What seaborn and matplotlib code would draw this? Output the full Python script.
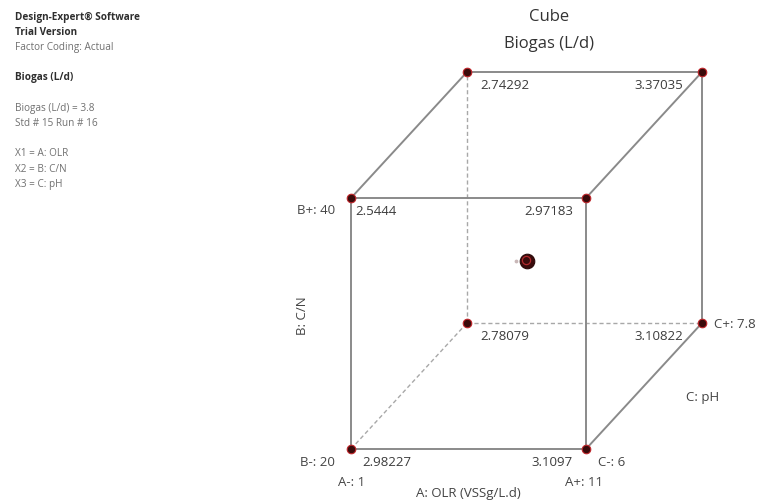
import numpy as np
import pandas as pd
import matplotlib
matplotlib.use("Agg")
import matplotlib.pyplot as plt
import seaborn as sns

# Factor levels (actual units)
A_levels = [1, 11]        # A: OLR (VSSg/L.d)
B_levels = [20, 40]       # B: C/N
C_levels = [6, 7.8]       # C: pH

# Cube corners in coded units and predicted response
a_code = [-1, 1, -1, 1, -1, 1, -1, 1]
b_code = [-1, -1, 1, 1, -1, -1, 1, 1]
c_code = [-1, -1, -1, -1, 1, 1, 1, 1]
biogas = [2.98227, 3.1097, 2.5444, 2.97183, 2.78079, 3.10822, 2.74292, 3.37035]

# Center point
center_code = (0, 0, 0)

info_lines = [
    ("Design-Expert\u00ae Software", "bold"),
    ("Trial Version", "bold"),
    ("Factor Coding: Actual", "normal"),
    ("", "normal"),
    ("Biogas (L/d)", "bold"),
    ("", "normal"),
    ("Biogas (L/d) = 3.8", "normal"),
    ("Std # 15 Run # 16", "normal"),
    ("", "normal"),
    ("X1 = A: OLR", "normal"),
    ("X2 = B: C/N", "normal"),
    ("X3 = C: pH", "normal"),
]

sns.set_theme(style="white")
plt.rcParams["font.family"] = ["Open Sans", "DejaVu Sans"]

W, H = 764, 501
fig = plt.figure(figsize=(W / 100, H / 100), dpi=100)
ax = fig.add_axes([0, 0, 1, 1])
ax.set_xlim(0, W)
ax.set_ylim(H, 0)
ax.axis("off")

# Oblique projection of the coded cube onto the page
ORIGIN = np.array([351.0, 449.0])
UA = np.array([235.0, 0.0])
UB = np.array([0.0, -251.0])
UC = np.array([116.0, -126.0])


def proj(a, b, c):
    p = ORIGIN + UA * (a + 1) / 2 + UB * (b + 1) / 2 + UC * (c + 1) / 2
    return p[0], p[1]


df = pd.DataFrame({"a": a_code, "b": b_code, "c": c_code, "biogas": biogas})
xy = np.array([proj(a, b, c) for a, b, c in zip(df.a, df.b, df.c)])
df["px"], df["py"] = xy[:, 0], xy[:, 1]


def corner(a, b, c):
    row = df[(df.a == a) & (df.b == b) & (df.c == c)].iloc[0]
    return row.px, row.py


edge_col = "#8a8a8a"
hidden = [((-1, -1, -1), (-1, -1, 1)), ((-1, -1, 1), (1, -1, 1)), ((-1, -1, 1), (-1, 1, 1))]
solid = [
    ((-1, -1, -1), (1, -1, -1)), ((1, -1, -1), (1, 1, -1)),
    ((1, 1, -1), (-1, 1, -1)), ((-1, 1, -1), (-1, -1, -1)),
    ((-1, 1, 1), (1, 1, 1)), ((1, 1, 1), (1, -1, 1)),
    ((-1, 1, -1), (-1, 1, 1)), ((1, 1, -1), (1, 1, 1)), ((1, -1, -1), (1, -1, 1)),
]
for p, q in hidden:
    x0, y0 = corner(*p)
    x1, y1 = corner(*q)
    ax.plot([x0, x1], [y0, y1], color="#a8a8a8", lw=1.0, ls=(0, (3, 2)), zorder=1)
for p, q in solid:
    x0, y0 = corner(*p)
    x1, y1 = corner(*q)
    ax.plot([x0, x1], [y0, y1], color=edge_col, lw=1.4, zorder=2, solid_capstyle="butt")

# Corner design points
sns.scatterplot(data=df, x="px", y="py", ax=ax, s=38, color="#3a0b0b",
                edgecolor="#c0262b", linewidth=0.8, zorder=4, legend=False)

# Center point
cx, cy = proj(*center_code)
ax.scatter([cx], [cy], s=110, color="#3a0b0b", edgecolor="#2a0808", linewidth=0.8, zorder=4)
ax.scatter([cx], [cy], s=35, facecolor="none", edgecolor="#b0282c", linewidth=0.9, zorder=5)
ax.scatter([cx - 11], [cy], s=3, color="#c9b8b8", zorder=4)

# Response values at the corners
val_col = "#3c3c3c"
for _, r in df.iterrows():
    if r.a < 0:
        dx, ha = (13 if r.c > 0 else (4 if r.b > 0 else 11)), "left"
    else:
        dx, ha = (-19 if r.c > 0 else -13), "right"
    ax.text(r.px + dx, r.py + 13.5, f"{r.biogas:g}", ha=ha, va="center",
            fontsize=9.5, color=val_col)

lab_col = "#444444"
fs = 9.5
# Factor level labels
x, y = proj(-1, 1, -1)
ax.text(x - 16, y + 13, f"B+: {B_levels[1]}", ha="right", va="center", fontsize=fs, color=lab_col)
x, y = proj(-1, -1, -1)
ax.text(x - 16, y + 13, f"B-: {B_levels[0]}", ha="right", va="center", fontsize=fs, color=lab_col)
ax.text(x + 1, y + 34, f"A-: {A_levels[0]}", ha="center", va="center", fontsize=fs, color=lab_col)
x, y = proj(1, -1, -1)
ax.text(x - 2, y + 34, f"A+: {A_levels[1]}", ha="center", va="center", fontsize=fs, color=lab_col)
ax.text(x + 12, y + 13, f"C-: {C_levels[0]:g}", ha="left", va="center", fontsize=fs, color=lab_col)
x, y = proj(1, -1, 1)
ax.text(x + 12, y + 2, f"C+: {C_levels[1]:g}", ha="left", va="center", fontsize=fs, color=lab_col)

# Axis names
x, y = proj(0, -1, -1)
ax.text(x, y + 44, "A: OLR (VSSg/L.d)", ha="center", va="center", fontsize=fs, color=lab_col)
x, y = proj(-1, 0, -1)
ax.text(x - 48, y - 8, "B: C/N", ha="center", va="center", rotation=90, fontsize=fs, color=lab_col)
x, y = proj(1, -1, 0)
ax.text(x + 59, y + 12, "C: pH", ha="center", va="center", fontsize=fs, color=lab_col)

# Titles
ax.text(549, 17, "Cube", ha="center", va="center", fontsize=12, color="#333333")
ax.text(549, 44, "Biogas (L/d)", ha="center", va="center", fontsize=12, color="#333333")

# Report panel
y = 17
for txt, wt in info_lines:
    if txt:
        ax.text(15, y, txt, ha="left", va="center", fontsize=7.2, fontweight=wt,
                color="#2e2e2e" if wt == "bold" else "#707070")
    y += 15.2

fig.savefig("out.png", dpi=100, facecolor="white")
